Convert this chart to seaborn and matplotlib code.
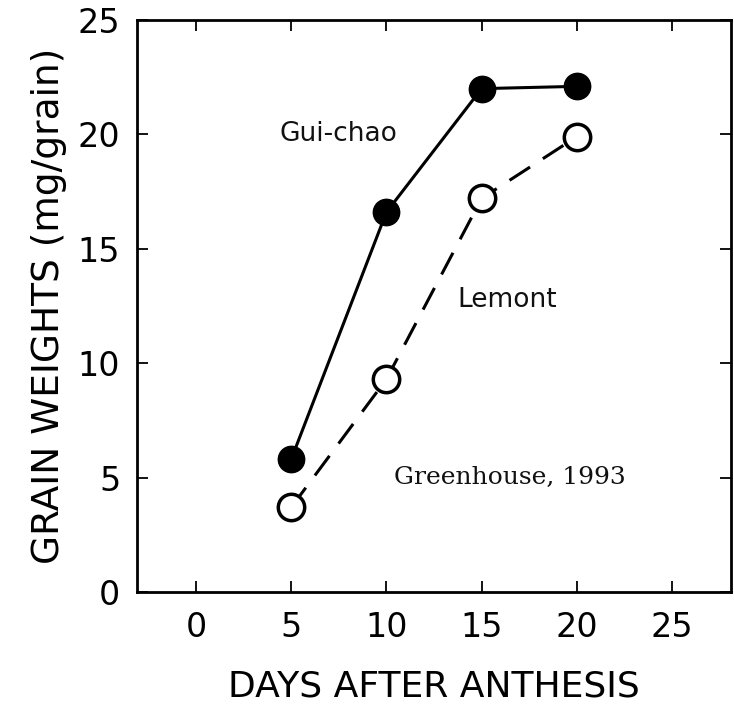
import matplotlib
matplotlib.use("Agg")
import matplotlib.pyplot as plt
import seaborn as sns
import pandas as pd

days = [5, 10, 15, 20]
guichao = [5.8, 16.6, 22.0, 22.1]
lemont = [3.7, 9.3, 17.2, 19.9]
x_ticks = [0, 5, 10, 15, 20, 25]
y_ticks = [0, 5, 10, 15, 20, 25]

sns.set_theme(style="ticks")
plt.rcParams['font.family'] = ['DejaVu Sans']

fig = plt.figure(figsize=(7.34, 7.08), dpi=100)
ax = fig.add_axes([137/734, 1-592/708, (731-137)/734, (592-20)/708])

df_g = pd.DataFrame({"day": days, "w": guichao})
df_l = pd.DataFrame({"day": days, "w": lemont})

sns.lineplot(data=df_g, x="day", y="w", ax=ax, color="black", lw=2.2,
             marker="o", markersize=19, markerfacecolor="black",
             markeredgecolor="black", markeredgewidth=1)
sns.lineplot(data=df_l, x="day", y="w", ax=ax, color="black", lw=2.2,
             marker="o", markersize=19, markerfacecolor="white",
             markeredgecolor="black", markeredgewidth=2.5)
ax.lines[1].set_dashes([8, 5])
ax.lines[1].set_dash_capstyle('butt')

ax.set_xlim(-3.1, 28.1)
ax.set_ylim(0, 25)
ax.set_xticks(x_ticks)
ax.set_yticks(y_ticks)
ax.tick_params(direction="in", length=8, width=1.3, top=True, right=True,
               labelsize=24, colors="black")
ax.tick_params(axis="x", pad=14)
ax.tick_params(axis="y", pad=12)
for s in ax.spines.values():
    s.set_linewidth(2)
    s.set_color("black")
    s.set_visible(True)

ax.set_xlabel("DAYS AFTER ANTHESIS", fontsize=26, labelpad=18, color="black")
ax.set_ylabel("GRAIN WEIGHTS (mg/grain)", fontsize=27, labelpad=8, color="black")

ax.text(4.4, 20.0, "Gui-chao", fontsize=19, color="#111111", va="center", ha="left")
ax.text(13.75, 12.75, "Lemont", fontsize=19, color="#111111", va="center", ha="left")
ax.text(10.4, 5.0, "Greenhouse, 1993", fontsize=18, family="DejaVu Serif",
        color="#111111", va="center", ha="left")

fig.savefig("out.png", dpi=100, facecolor="white")
